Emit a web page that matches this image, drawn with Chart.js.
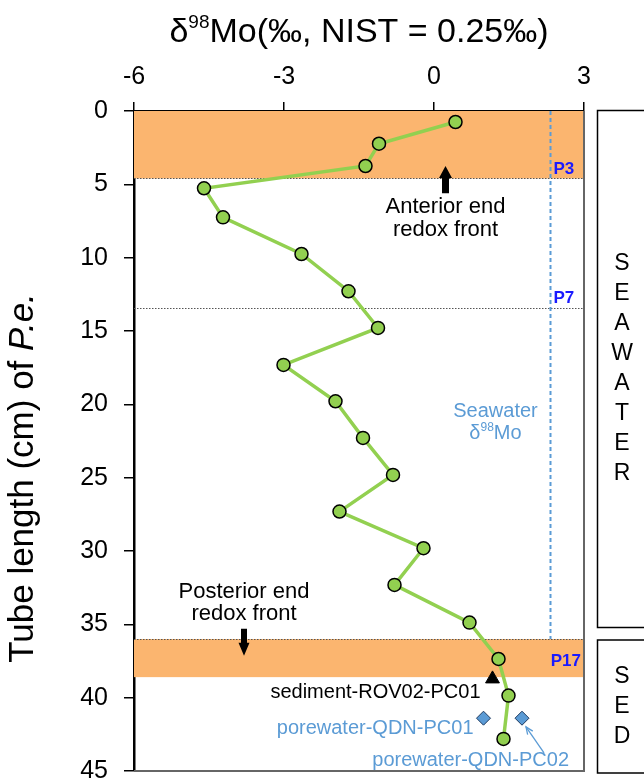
<!DOCTYPE html>
<html><head><meta charset="utf-8">
<script src="https://cdn.jsdelivr.net/npm/chart.js@4/dist/chart.umd.min.js"></script>
<style>html,body{margin:0;padding:0;background:#fff;}#wrap{width:644px;height:781px;}</style>
</head><body><div id="wrap"><canvas id="c" width="644" height="781"></canvas></div>
<script>
const FONT = '"Liberation Sans", Arial, sans-serif';
// δ98Mo (‰) along the tube and tube length (cm)
const moValues   = [0.43, -1.10, -1.37, -4.60, -4.22, -2.65, -1.71, -1.12, -3.01, -1.97, -1.42, -0.82, -1.89, -0.21, -0.79, 0.71, 1.29, 1.49, 1.39];
const tubeLength = [0.75, 2.23, 3.75, 5.27, 7.25, 9.75, 12.29, 14.79, 17.31, 19.79, 22.29, 24.81, 27.31, 29.81, 32.31, 34.88, 37.36, 39.86, 42.81];
const sedimentMo = [1.17];
const sedimentDepth = [38.72];
const porewaterMo = [0.99, 1.76];
const porewaterDepth = [41.4, 41.4];
const seawaterMo = 2.33;
const redoxBands = [[0, 4.6], [36, 38.6]];
const sampleLines = [4.6, 13.4, 36];
const sampleLabels = ['P3', 'P7', 'P17'];
const xTicks = [-6, -3, 0, 3];
const yTicks = [0, 5, 10, 15, 20, 25, 30, 35, 40, 45];

function supText(ctx, parts, cx, baseline, align) {
  let w = 0;
  parts.forEach(p => { ctx.font = `${p.style||''} ${p.size}px ${FONT}`; p.w = ctx.measureText(p.t).width; w += p.w; });
  let x = align === 'center' ? cx - w / 2 : cx;
  ctx.textAlign = 'left'; ctx.textBaseline = 'alphabetic';
  parts.forEach(p => { ctx.font = `${p.style||''} ${p.size}px ${FONT}`; ctx.fillText(p.t, x, baseline - (p.raise || 0)); x += p.w; });
}

function blockArrow(ctx, x, yTail, yTip, shaftW, headW, headL) {
  const dir = yTip > yTail ? 1 : -1;
  const yHead = yTip - dir * headL;
  ctx.beginPath();
  ctx.moveTo(x - shaftW / 2, yTail);
  ctx.lineTo(x - shaftW / 2, yHead);
  ctx.lineTo(x - headW / 2, yHead);
  ctx.lineTo(x, yTip);
  ctx.lineTo(x + headW / 2, yHead);
  ctx.lineTo(x + shaftW / 2, yHead);
  ctx.lineTo(x + shaftW / 2, yTail);
  ctx.closePath();
  ctx.fill();
}

const decor = {
  id: 'decor',
  beforeDatasetsDraw(chart) {
    const { ctx, chartArea: a, scales: { x, y } } = chart;
    ctx.save();
    ctx.fillStyle = '#fbb56f';
    redoxBands.forEach(([t, b]) => {
      const y0 = y.getPixelForValue(t), y1 = y.getPixelForValue(b);
      ctx.fillRect(a.left, y0, a.right - a.left, y1 - y0);
    });
    ctx.strokeStyle = '#555';
    ctx.lineWidth = 1;
    ctx.setLineDash([1.5, 1.5]);
    sampleLines.forEach(v => {
      const yy = Math.round(y.getPixelForValue(v)) + 0.5;
      ctx.beginPath(); ctx.moveTo(a.left, yy); ctx.lineTo(a.right, yy); ctx.stroke();
    });
    ctx.strokeStyle = '#5b9bd5';
    ctx.lineWidth = 2;
    ctx.setLineDash([4, 3]);
    const sx = x.getPixelForValue(seawaterMo);
    ctx.beginPath(); ctx.moveTo(sx, a.top); ctx.lineTo(sx, y.getPixelForValue(36)); ctx.stroke();
    ctx.setLineDash([]);
    ctx.fillStyle = '#1a1aff';
    ctx.font = `bold 17px ${FONT}`;
    ctx.textBaseline = 'middle';
    ctx.textAlign = 'left';
    ctx.fillText(sampleLabels[0], sx + 3, y.getPixelForValue(3.95));
    ctx.fillText(sampleLabels[1], sx + 3, y.getPixelForValue(12.75));
    ctx.textAlign = 'right';
    ctx.fillText(sampleLabels[2], a.right - 3, y.getPixelForValue(37.5));
    ctx.restore();
  },
  afterDatasetsDraw(chart) {
    const { ctx, chartArea: a, scales: { x, y } } = chart;
    ctx.save();
    ctx.strokeStyle = '#666';
    ctx.lineWidth = 2;
    ctx.beginPath();
    ctx.moveTo(a.right, a.top); ctx.lineTo(a.right, a.bottom); ctx.lineTo(a.left, a.bottom);
    ctx.stroke();
    ctx.fillStyle = '#000';
    ctx.font = `22px ${FONT}`;
    ctx.textAlign = 'center'; ctx.textBaseline = 'middle';
    ctx.fillText('Anterior end', x.getPixelForValue(0.23), y.getPixelForValue(6.54));
    ctx.fillText('redox front', x.getPixelForValue(0.23), y.getPixelForValue(8.11));
    ctx.fillText('Posterior end', x.getPixelForValue(-3.8), y.getPixelForValue(32.77));
    ctx.fillText('redox front', x.getPixelForValue(-3.8), y.getPixelForValue(34.29));
    blockArrow(ctx, x.getPixelForValue(0.23), y.getPixelForValue(5.6), y.getPixelForValue(3.75), 7, 13, 12);
    blockArrow(ctx, x.getPixelForValue(-3.8), y.getPixelForValue(35.3), y.getPixelForValue(37.15), 6, 11, 13);
    ctx.font = `20px ${FONT}`;
    ctx.textAlign = 'right';
    ctx.fillText('sediment-ROV02-PC01', x.getPixelForValue(0.93), y.getPixelForValue(39.67));
    ctx.fillStyle = '#5b9bd5';
    ctx.fillText('porewater-QDN-PC01', x.getPixelForValue(0.79), y.getPixelForValue(42.13));
    ctx.fillText('porewater-QDN-PC02', x.getPixelForValue(2.70), y.getPixelForValue(44.31));
    const ax0 = x.getPixelForValue(2.20), ay0 = y.getPixelForValue(43.76);
    const ax1 = x.getPixelForValue(1.84), ay1 = y.getPixelForValue(41.99);
    ctx.strokeStyle = '#5b9bd5'; ctx.lineWidth = 1.3;
    ctx.beginPath(); ctx.moveTo(ax0, ay0); ctx.lineTo(ax1, ay1); ctx.stroke();
    const ang = Math.atan2(ay1 - ay0, ax1 - ax0);
    ctx.beginPath();
    ctx.moveTo(ax1 - 8 * Math.cos(ang - 0.4), ay1 - 8 * Math.sin(ang - 0.4));
    ctx.lineTo(ax1, ay1);
    ctx.lineTo(ax1 - 8 * Math.cos(ang + 0.4), ay1 - 8 * Math.sin(ang + 0.4));
    ctx.stroke();
    const cx = x.getPixelForValue(1.23);
    ctx.textAlign = 'center'; ctx.textBaseline = 'middle';
    ctx.font = `20px ${FONT}`;
    ctx.fillText('Seawater', cx, y.getPixelForValue(20.52));
    supText(ctx, [{t: 'δ', size: 20}, {t: '98', size: 12, raise: 8}, {t: 'Mo', size: 20}], cx, y.getPixelForValue(21.88) + 7, 'center');
    ctx.restore();
  },
  afterDraw(chart) {
    const { ctx, chartArea: a } = chart;
    ctx.save();
    ctx.fillStyle = '#000';
    supText(ctx, [{t: 'δ', size: 34}, {t: '98', size: 19, raise: 14}, {t: 'Mo(‰, NIST = 0.25‰)', size: 34}], (a.left + a.right) / 2, 42, 'center');
    ctx.translate(33, 478);
    ctx.rotate(-Math.PI / 2);
    supText(ctx, [{t: 'Tube length (cm) of ', size: 35}, {t: 'P.e.', size: 35, style: 'italic'}], 0, 0, 'center');
    ctx.setTransform(1, 0, 0, 1, 0, 0);
    ctx.strokeStyle = '#000'; ctx.lineWidth = 1.5;
    ctx.strokeRect(597.5, 110.5, 60, 517);
    ctx.strokeRect(597.5, 640, 60, 133);
    ctx.font = `23px ${FONT}`;
    ctx.textAlign = 'center'; ctx.textBaseline = 'middle';
    'SEAWATER'.split('').forEach((ch, i) => ctx.fillText(ch, 622, 263.5 + i * 30));
    'SED'.split('').forEach((ch, i) => ctx.fillText(ch, 622, 677 + i * 30));
    ctx.restore();
  }
};

new Chart(document.getElementById('c'), {
  type: 'scatter',
  data: {
    datasets: [
      { data: moValues.map((v, i) => ({ x: v, y: tubeLength[i] })), showLine: true,
        borderColor: '#92d050', borderWidth: 3.5, pointRadius: 6.5, pointBackgroundColor: '#92d050',
        pointBorderColor: '#000', pointBorderWidth: 1.5 },
      { data: sedimentMo.map((v, i) => ({ x: v, y: sedimentDepth[i] })), pointStyle: 'triangle',
        pointRadius: 8, backgroundColor: '#000', borderColor: '#000', pointBorderWidth: 1 },
      { data: porewaterMo.map((v, i) => ({ x: v, y: porewaterDepth[i] })), pointStyle: 'rectRot',
        pointRadius: 7, backgroundColor: '#5b9bd5', borderColor: '#1f3a5f', pointBorderWidth: 1 }
    ]
  },
  options: {
    responsive: false, animation: false, devicePixelRatio: 1,
    layout: { padding: { left: 0, top: 0, right: 60, bottom: 10 } },
    plugins: { legend: { display: false }, tooltip: { enabled: false } },
    scales: {
      x: { type: 'linear', position: 'top', min: -6, max: 3,
        afterBuildTicks: s => { s.ticks = xTicks.map(v => ({ value: v })); },
        afterFit: s => { s.height = 111; s.paddingLeft = 0; s.paddingRight = 0; },
        ticks: { font: { size: 25, family: FONT }, color: '#000', padding: 10 },
        grid: { drawOnChartArea: false, drawTicks: true, tickLength: 9, color: '#000', lineWidth: 1.5 },
        border: { display: true, color: '#000', width: 2.5 } },
      y: { type: 'linear', reverse: true, min: 0, max: 45,
        afterBuildTicks: s => { s.ticks = yTicks.map(v => ({ value: v })); },
        afterFit: s => { s.width = 134; s.paddingTop = 0; s.paddingBottom = 0; },
        ticks: { font: { size: 25, family: FONT }, color: '#000', padding: 16 },
        grid: { drawOnChartArea: false, drawTicks: true, tickLength: 10, color: '#000', lineWidth: 1.5 },
        border: { display: true, color: '#000', width: 2.5 } }
    }
  },
  plugins: [decor]
});
</script></body></html>
